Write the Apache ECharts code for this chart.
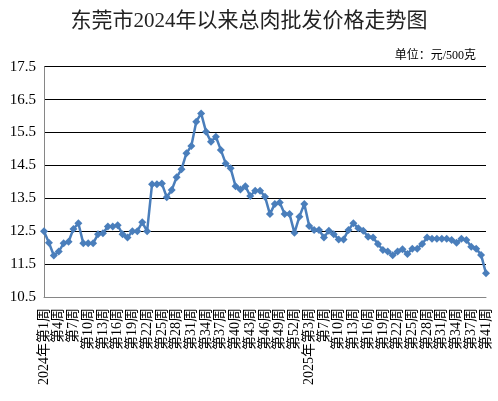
<!DOCTYPE html>
<html>
<head>
<meta charset="utf-8">
<script src="https://cdn.jsdelivr.net/npm/echarts@6/dist/echarts.min.js"></script>
<style>
  html, body { margin: 0; padding: 0; background: #fff; }
  #main { width: 498px; height: 401px; }
</style>
</head>
<body>
<div id="main"></div>
<script>
// 周次（2025年缺第5周、第40周）
let weeks2024 = [1, 2, 3, 4, 5, 6, 7, 8, 9, 10, 11, 12, 13, 14, 15, 16, 17, 18, 19, 20,
  21, 22, 23, 24, 25, 26, 27, 28, 29, 30, 31, 32, 33, 34, 35, 36, 37, 38, 39, 40,
  41, 42, 43, 44, 45, 46, 47, 48, 49, 50, 51, 52];
let weeks2025 = [1, 2, 3, 4, 6, 7, 8, 9, 10, 11, 12, 13, 14, 15, 16, 17, 18, 19, 20,
  21, 22, 23, 24, 25, 26, 27, 28, 29, 30, 31, 32, 33, 34, 35, 36, 37, 38, 39, 41];

// 总肉批发价格（元/500克）
let prices2024 = [12.5, 12.15, 11.76, 11.88, 12.13, 12.18, 12.57, 12.74, 12.13, 12.13,
  12.13, 12.41, 12.44, 12.64, 12.64, 12.68, 12.41, 12.31, 12.5, 12.5,
  12.77, 12.5, 13.93, 13.93, 13.95, 13.53, 13.75, 14.14, 14.38, 14.87,
  15.09, 15.83, 16.08, 15.52, 15.22, 15.37, 14.97, 14.56, 14.41, 13.87,
  13.77, 13.87, 13.57, 13.73, 13.73, 13.55, 13.02, 13.33, 13.37, 13.02,
  13.02, 12.45];
let prices2025 = [12.94, 13.33, 12.66, 12.54, 12.54, 12.31, 12.51, 12.41, 12.25, 12.25,
  12.54, 12.74, 12.59, 12.51, 12.33, 12.31, 12.11, 11.93, 11.88, 11.77,
  11.88, 11.95, 11.81, 11.97, 11.97, 12.11, 12.31, 12.27, 12.27, 12.27,
  12.27, 12.23, 12.15, 12.27, 12.23, 12.03, 11.97, 11.78, 11.22];

let yTicks = [10.5, 11.5, 12.5, 13.5, 14.5, 15.5, 16.5, 17.5];

let years = [];
let x = [];
weeks2024.forEach((w) => { years.push(2024); x.push("第" + w + "周"); });
weeks2025.forEach((w) => { years.push(2025); x.push("第" + w + "周"); });
let y = prices2024.concat(prices2025);

let labelStep = 3;

let myChart = echarts.init(document.getElementById("main"));
myChart.setOption({
  animation: false,
  title: [{
    text: "东莞市2024年以来总肉批发价格走势图",
    left: "center",
    top: 6,
    textStyle: {
      fontFamily: "Liberation Serif, Noto Sans CJK SC",
      fontSize: 21,
      fontWeight: "normal",
      color: "#222",
    },
  }, {
    text: "单位：元/500克",
    right: 17,
    top: 45,
    textStyle: {
      fontFamily: "Liberation Serif, Noto Sans CJK SC",
      fontSize: 12,
      fontWeight: "normal",
      color: "#000",
    },
  }],
  grid: {
    left: 44,
    right: 12,
    top: 66.7,
    bottom: 104,
  },
  xAxis: {
    type: "category",
    boundaryGap: false,
    data: x,
    axisLine: {
      lineStyle: { color: "#868686" },
    },
    axisTick: { show: false },
    axisLabel: {
      interval: labelStep - 1,
      rotate: 90,
      margin: 11,
      fontFamily: "Liberation Serif, Noto Sans CJK SC",
      fontSize: 14,
      color: "#000",
      // 每年第一个显示的标签带年份
      formatter: (value, index) => {
        if (index === 0 || years[index] !== years[index - labelStep]) {
          return years[index] + "年" + value;
        }
        return value;
      },
    },
  },
  yAxis: {
    type: "value",
    min: yTicks[0],
    max: yTicks[yTicks.length - 1],
    interval: 1,
    axisLine: {
      show: true,
      lineStyle: { color: "#868686" },
    },
    axisTick: { show: false },
    axisLabel: {
      margin: 8,
      fontFamily: "Liberation Serif",
      fontSize: 15,
      color: "#000",
      formatter: (v) => v.toFixed(1),
    },
    splitLine: {
      lineStyle: { color: "#000", width: 1 },
    },
  },
  series: [{
    type: "line",
    data: y,
    symbol: "diamond",
    symbolSize: 8,
    showAllSymbol: true,
    lineStyle: {
      width: 2.5,
      color: "#4a7ebb",
    },
    itemStyle: {
      color: "#4a7ebb",
    },
  }],
});
</script>
</body>
</html>
